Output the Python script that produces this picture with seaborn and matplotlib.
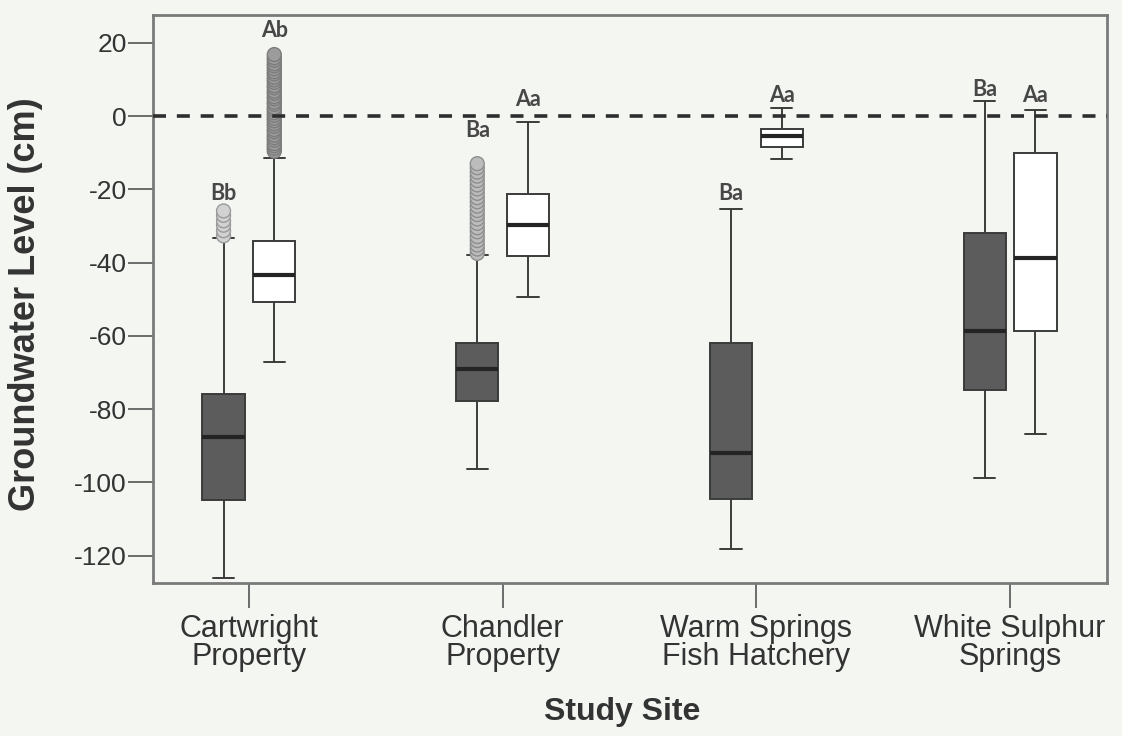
import numpy as np
import pandas as pd
import matplotlib
matplotlib.use("Agg")
import matplotlib.pyplot as plt
import seaborn as sns

# ---------------------------------------------------------------- data
sites = ["Cartwright\nProperty", "Chandler\nProperty",
         "Warm Springs\nFish Hatchery", "White Sulphur\nSprings"]

# five-number summaries per site: lower whisker, Q1, median, Q3, upper whisker (cm)
series_b = [
    [-126.0, -104.8, -87.7, -75.9, -33.4],
    [-96.3, -77.8, -69.1, -62.0, -37.9],
    [-118.2, -104.6, -92.0, -62.0, -25.5],
    [-98.9, -74.8, -58.6, -32.0, 4.2],
]
series_a = [
    [-67.2, -50.8, -43.4, -34.0, -11.5],
    [-49.3, -38.1, -29.7, -21.4, -1.7],
    [-11.8, -8.4, -5.4, -3.5, 2.3],
    [-86.8, -58.6, -38.8, -10.2, 1.6],
]

# outlying readings
outliers_cartwright_b = [-32.7, -31.3, -29.8, -28.6, -27.1, -25.9]
outliers_cartwright_a = [-9.6, -8.8, -8.1, -7.5, -6.6, -5.9, -5.2, -4.3, -3.7, -2.8,
                         -2.1, -1.3, -0.6, 0.2, 0.9, 1.7, 2.3, 3.2, 3.8, 4.7,
                         5.3, 6.2, 6.8, 7.7, 8.3, 9.2, 9.9, 10.6, 11.5, 12.1,
                         12.9, 13.7, 14.3, 15.2, 15.9, 16.8]
outliers_chandler_b = [-37.5, -36.3, -35.2, -34.0, -32.9, -31.6, -30.5, -29.3,
                       -28.1, -26.9, -25.8, -24.6, -23.4, -22.3, -21.1, -19.9,
                       -18.8, -17.6, -16.4, -15.3, -14.1, -13.0]

# significance letters (upper case: between series, lower case: between sites)
letters_b = ["Bb", "Ba", "Ba", "Ba"]
letters_a = ["Ab", "Aa", "Aa", "Aa"]

y_ticks = [-120, -100, -80, -60, -40, -20, 0, 20]

# ---------------------------------------------------------------- layout / style
hue_order = ["pad_l", "B", "A", "pad_r"]   # outer levels only set the dodge spacing
box_fill = {"pad_l": "white", "B": "#5c5c5c", "A": "#ffffff", "pad_r": "white"}
paper = "#f4f6f2"
ink = "#333333"
letter_baseline = {("B", 0): -22.9, ("A", 0): 21.5,
                   ("B", 1): -5.6, ("A", 1): 2.7,
                   ("B", 2): -22.9, ("A", 2): 3.8,
                   ("B", 3): 5.5, ("A", 3): 3.8}

sns.set_style("ticks")
plt.rcParams["font.family"] = ["Liberation Sans", "DejaVu Sans"]

rows = []
for name, summaries in (("B", series_b), ("A", series_a)):
    for site, vals in zip(sites, summaries):
        for v in vals:
            rows.append({"site": site, "series": name, "level": v})
boxes = pd.DataFrame(rows)

fig = plt.figure(figsize=(11.22, 7.36), dpi=100, facecolor=paper)
ax = fig.add_axes([153 / 1122, 1 - 583 / 736, 954 / 1122, 568 / 736])
ax.set_facecolor(paper)

sns.boxplot(data=boxes, x="site", y="level", hue="series",
            order=sites, hue_order=hue_order, palette=box_fill,
            whis=(0, 100), width=0.8, gap=0.17, showfliers=False,
            linecolor="#3b3b3b", linewidth=1.4,
            medianprops={"color": "#242424", "linewidth": 3.0},
            legend=False, ax=ax, zorder=2)

outlier_sets = [
    (sites[0], "B", outliers_cartwright_b, "#d2d2d2", "#9a9a9a"),
    (sites[0], "A", outliers_cartwright_a, "#9c9c9c", "#7c7c7c"),
    (sites[1], "B", outliers_chandler_b, "#bcbcbc", "#8e8e8e"),
]
for site, name, vals, face, edge in outlier_sets:
    pts = pd.DataFrame({"site": site, "series": name, "level": vals})
    sns.stripplot(data=pts, x="site", y="level", hue="series",
                  order=sites, hue_order=hue_order,
                  palette={h: face for h in hue_order},
                  dodge=True, jitter=False, size=10,
                  edgecolor=edge, linewidth=1.0, legend=False, ax=ax, zorder=3)

ax.axhline(0, color="#2e2e2e", linewidth=2.6, linestyle=(0, (3.6, 3.0)), zorder=4)

# letters above each box
slot = 0.8 / len(hue_order)
for name, letters in (("B", letters_b), ("A", letters_a)):
    offset = (hue_order.index(name) - (len(hue_order) - 1) / 2) * slot
    for i, txt in enumerate(letters):
        ax.text(i + offset, letter_baseline[(name, i)], txt, ha="center",
                va="baseline", fontsize=15.5, fontweight="bold",
                family=["Lato", "DejaVu Sans"], color="#474747", zorder=5)

ax.set_xlim(-0.378, 3.382)
ax.set_ylim(-127.5, 27.6)
ax.set_yticks(y_ticks)
ax.set_yticklabels([str(t) for t in y_ticks])

ax.tick_params(axis="both", direction="out", length=18, width=1.2,
               color="#555555", labelcolor=ink)
ax.tick_params(axis="y", pad=1, labelsize=19)
ax.tick_params(axis="x", pad=4, labelsize=22)
for lab in ax.get_xticklabels():
    lab.set_linespacing(0.95)

for sp in ax.spines.values():
    sp.set_visible(True)
    sp.set_color("#7a7a7a")
    sp.set_linewidth(2.0)

ax.set_ylabel("Groundwater Level (cm)", fontsize=26, fontweight="bold", color=ink)
ax.set_xlabel("Study Site", fontsize=23, fontweight="bold", color=ink)
ax.yaxis.set_label_coords(-0.115, 0.49)
ax.xaxis.set_label_coords(0.492, -0.20)

fig.savefig("out.png", dpi=100, facecolor=paper)
